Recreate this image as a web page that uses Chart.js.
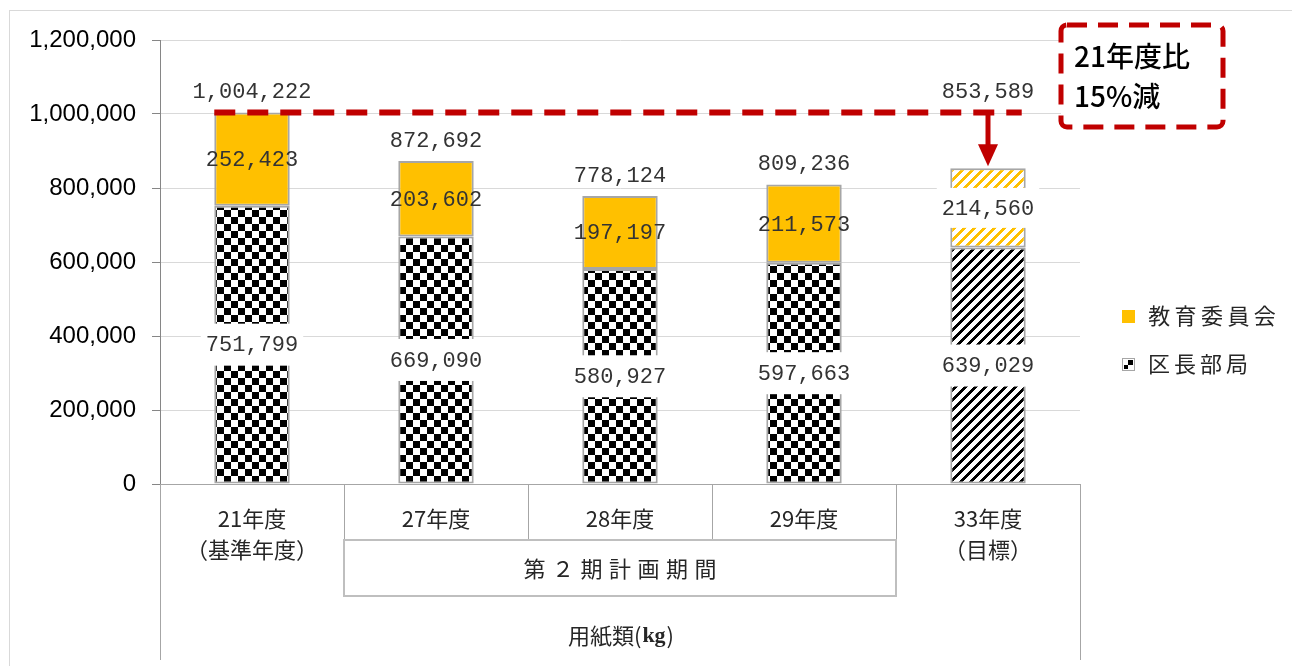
<!DOCTYPE html>
<html><head><meta charset="utf-8">
<script src="https://cdn.jsdelivr.net/npm/chart.js@4/dist/chart.umd.min.js"></script>
<style>html,body{margin:0;padding:0;background:#fff}#wrap{width:1292px;height:666px;position:relative}</style>
</head><body><div id="wrap"><canvas id="c" width="1292" height="666"></canvas></div>
<script>
const categories = ['21年度','27年度','28年度','29年度','33年度'];
const subLabels = ['（基準年度）','','','','（目標）'];
const kuchoValues = [751799, 669090, 580927, 597663, 639029];
const kyoikuValues = [252423, 203602, 197197, 211573, 214560];
const totalValues = [1004222, 872692, 778124, 809236, 853589];
const seriesNames = ['区長部局', '教育委員会'];
const yMin = 0, yMax = 1200000, yStep = 200000;
const periodLabel = '第２期計画期間';
const axisTitleMain = '用紙類';
const axisTitleUnit = 'kg';
const noteLines = ['21年度比', '15%減'];
const targetIndex = 4;

const ORANGE = '#ffc000';
const RED = '#c00000';
const fmt = v => v.toLocaleString('en-US');

function tile(w, h, fn) {
  const c = document.createElement('canvas'); c.width = w; c.height = h;
  const g = c.getContext('2d'); const img = g.createImageData(w, h);
  for (let y = 0; y < h; y++) for (let x = 0; x < w; x++) {
    const col = fn(x, y); const i = (y * w + x) * 4;
    img.data[i] = col[0]; img.data[i+1] = col[1]; img.data[i+2] = col[2]; img.data[i+3] = 255;
  }
  g.putImageData(img, 0, 0); return c;
}
const canvas = document.getElementById('c');
const ctx0 = canvas.getContext('2d');
const CELL = 7;
const checker = ctx0.createPattern(tile(CELL*2, CELL*2, (x, y) => ((Math.floor(x / CELL) + Math.floor(y / CELL)) % 2 ? [255,255,255] : [0,0,0])), 'repeat');
const blackStripe = ctx0.createPattern(tile(10, 10, (x, y) => (((x + y) % 10) < 4 ? [0,0,0] : [255,255,255])), 'repeat');
const orangeStripe = ctx0.createPattern(tile(10, 10, (x, y) => (((x + y) % 10) < 4 ? [255,192,0] : [255,255,255])), 'repeat');

const kuchoFill = kuchoValues.map((v, i) => i === targetIndex ? blackStripe : checker);
const kyoikuFill = kyoikuValues.map((v, i) => i === targetIndex ? orangeStripe : ORANGE);

const LABEL_FONT = '22px "Liberation Mono", monospace';
const JP = '"Noto Sans CJK JP", "Noto Sans", sans-serif';

function drawSpaced(ctx, text, cx, cy, pitch) {
  const chars = Array.from(text);
  const total = pitch * chars.length;
  let x = cx - total / 2 + pitch / 2;
  ctx.textAlign = 'center';
  for (const ch of chars) { ctx.fillText(ch, x, cy); x += pitch; }
}

const overlay = {
  id: 'overlay',
  afterDatasetsDraw(chart) {
    const ctx = chart.ctx;
    const xs = chart.scales.x, ys = chart.scales.y;
    const area = chart.chartArea;
    const m0 = chart.getDatasetMeta(0), m1 = chart.getDatasetMeta(1);
    const refY = ys.getPixelForValue(totalValues[0]);
    ctx.save();
    // data labels
    ctx.font = LABEL_FONT; ctx.textBaseline = 'middle'; ctx.textAlign = 'center';
    for (let i = 0; i < categories.length; i++) {
      const b0 = m0.data[i], b1 = m1.data[i];
      let cy = (b0.y + b0.base) / 2;
      let t = fmt(kuchoValues[i]); let w = ctx.measureText(t).width;
      ctx.fillStyle = '#fff'; ctx.fillRect(b0.x - w / 2 - 5, cy - 21, w + 10, 42);
      ctx.fillStyle = '#333'; ctx.fillText(t, b0.x, cy + 1);
      cy = (b1.y + b1.base) / 2;
      t = fmt(kyoikuValues[i]); w = ctx.measureText(t).width;
      if (i === targetIndex) { ctx.fillStyle = '#fff'; ctx.fillRect(b1.x - w / 2 - 5, cy - 20, w + 10, 40); }
      ctx.fillStyle = '#333'; ctx.fillText(t, b1.x, cy + 1);
      const ty = i === targetIndex ? refY - 20 : ys.getPixelForValue(totalValues[i]) - 20;
      ctx.fillText(fmt(totalValues[i]), b1.x, ty);
    }
    // dashed reference line
    const bw = m0.data[0].width;
    const lx0 = m0.data[0].x - bw / 2, lx1 = m0.data[targetIndex].x + bw / 2 - 4;
    ctx.strokeStyle = RED; ctx.lineWidth = 6; ctx.setLineDash([21, 12]);
    ctx.beginPath(); ctx.moveTo(lx0, refY); ctx.lineTo(lx1, refY); ctx.stroke();
    ctx.setLineDash([]);
    // arrow
    const ax = m0.data[targetIndex].x;
    const tipY = ys.getPixelForValue(totalValues[targetIndex]) - 2;
    ctx.lineWidth = 5; ctx.beginPath(); ctx.moveTo(ax, refY); ctx.lineTo(ax, tipY - 18); ctx.stroke();
    ctx.fillStyle = RED; ctx.beginPath();
    ctx.moveTo(ax - 10, tipY - 22); ctx.lineTo(ax + 10, tipY - 22); ctx.lineTo(ax, tipY); ctx.closePath(); ctx.fill();
    // annotation box
    ctx.fillStyle = '#fff'; ctx.strokeStyle = RED; ctx.lineWidth = 5; ctx.setLineDash([20, 11]);
    ctx.beginPath(); ctx.roundRect(1061, 25, 162, 102, 6); ctx.fill(); ctx.stroke();
    ctx.setLineDash([]);
    ctx.fillStyle = '#000'; ctx.font = '500 28px ' + JP; ctx.textAlign = 'left'; ctx.textBaseline = 'middle';
    ctx.fillText(noteLines[0], 1074, 56);
    ctx.fillText(noteLines[1], 1074, 96);

    // x axis structure
    const half = (xs.getPixelForValue(1) - xs.getPixelForValue(0)) / 2;
    const bounds = categories.map((c, i) => xs.getPixelForValue(i) - half);
    bounds.push(xs.getPixelForValue(categories.length - 1) + half);
    ctx.strokeStyle = '#a6a6a6'; ctx.lineWidth = 1;
    ctx.beginPath();
    ctx.moveTo(area.left, area.bottom + 0.5); ctx.lineTo(area.right, area.bottom + 0.5);
    ctx.moveTo(area.left + 0.5, area.bottom); ctx.lineTo(area.left + 0.5, 660);
    ctx.moveTo(area.right + 0.5, area.bottom); ctx.lineTo(area.right + 0.5, 660);
    for (let i = 1; i < categories.length; i++) {
      ctx.moveTo(Math.round(bounds[i]) + 0.5, area.bottom); ctx.lineTo(Math.round(bounds[i]) + 0.5, 540);
    }
    ctx.stroke();
    ctx.strokeStyle = '#bfbfbf'; ctx.lineWidth = 2;
    ctx.strokeRect(Math.round(bounds[1]), 540, Math.round(bounds[4]) - Math.round(bounds[1]), 56);
    // category labels
    ctx.fillStyle = '#262626'; ctx.font = '22px ' + JP; ctx.textAlign = 'center'; ctx.textBaseline = 'middle';
    for (let i = 0; i < categories.length; i++) {
      const cx = xs.getPixelForValue(i);
      ctx.fillText(categories[i], cx, 519);
      if (subLabels[i]) ctx.fillText(subLabels[i], cx, 550);
    }
    drawSpaced(ctx, periodLabel, (bounds[1] + bounds[4]) / 2, 569, 28.5);
    // axis title
    const JPF = '22px ' + JP, KGF = 'bold 22px "Liberation Serif", serif';
    const p1 = axisTitleMain + '(', p3 = ')';
    ctx.font = JPF;
    const w1 = ctx.measureText(p1).width, w3 = ctx.measureText(p3).width;
    ctx.font = KGF;
    const w2 = ctx.measureText(axisTitleUnit).width;
    let sx = (area.left + area.right) / 2 - (w1 + w2 + w3) / 2;
    ctx.textAlign = 'left';
    ctx.font = JPF; ctx.fillText(p1, sx, 636);
    ctx.font = KGF; ctx.fillText(axisTitleUnit, sx + w1 + 1, 636);
    ctx.font = JPF; ctx.fillText(p3, sx + w1 + w2 + 2, 636);

    // legend
    ctx.fillStyle = ORANGE; ctx.fillRect(1122, 310, 13, 13);
    ctx.strokeStyle = '#a6a6a6'; ctx.lineWidth = 1;
    ctx.fillStyle = '#fff'; ctx.fillRect(1122, 358, 13, 13);
    ctx.fillStyle = '#000'; ctx.fillRect(1128, 360, 5, 5); ctx.fillRect(1124, 365, 4, 4);
    ctx.strokeRect(1122.5, 358.5, 12, 12);
    ctx.fillStyle = '#262626'; ctx.font = '22px ' + JP; ctx.textBaseline = 'middle';
    drawSpaced(ctx, seriesNames[1], 1146 + 26.4 * 2.5, 316, 26.4);
    drawSpaced(ctx, seriesNames[0], 1146 + 26 * 2, 364, 26);

    // outer border
    ctx.strokeStyle = '#d9d9d9'; ctx.lineWidth = 1;
    ctx.strokeRect(9.5, 10.5, 1290, 700);
    ctx.restore();
  }
};

new Chart(canvas, {
  type: 'bar',
  data: {
    labels: categories,
    datasets: [
      { label: seriesNames[0], data: kuchoValues, backgroundColor: kuchoFill, borderColor: '#a6a6a6', borderWidth: 2, borderSkipped: false, stack: 's' },
      { label: seriesNames[1], data: kyoikuValues, backgroundColor: kyoikuFill, borderColor: '#a6a6a6', borderWidth: 2, borderSkipped: false, stack: 's' }
    ]
  },
  options: {
    responsive: false, animation: false, devicePixelRatio: 1,
    layout: { padding: { left: 0, top: 40, right: 212, bottom: 182 } },
    plugins: { legend: { display: false }, tooltip: { enabled: false } },
    datasets: { bar: { barPercentage: 0.41, categoryPercentage: 1 } },
    scales: {
      x: { display: false, stacked: true },
      y: {
        stacked: true, min: yMin, max: yMax,
        afterFit(s) { s.width = 160; },
        ticks: { stepSize: yStep, callback: v => fmt(v), color: '#000', font: { family: '"Liberation Sans", Arial, sans-serif', size: 24 }, padding: 16 },
        grid: { color: '#d9d9d9', tickColor: '#868686', tickLength: 8 },
        border: { color: '#868686' }
      }
    }
  },
  plugins: [overlay]
});
</script></body></html>
